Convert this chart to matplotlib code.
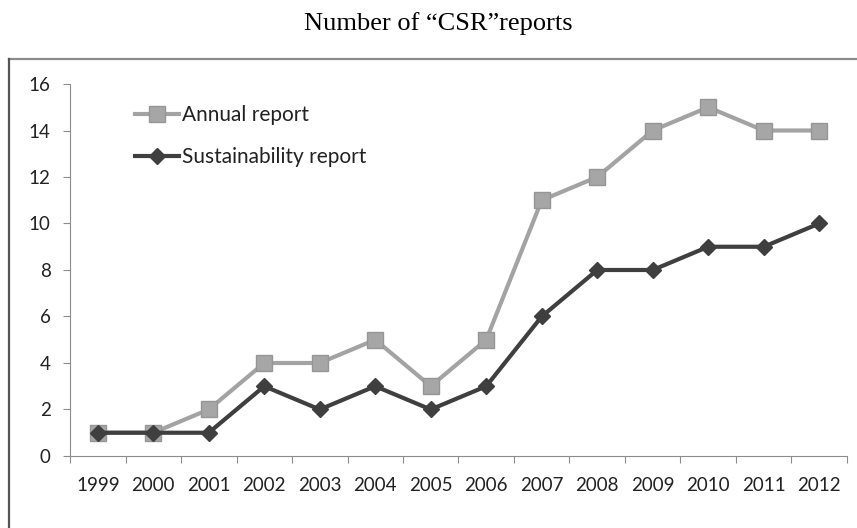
import matplotlib
matplotlib.use("Agg")
import matplotlib.pyplot as plt
from matplotlib.lines import Line2D

years = [1999, 2000, 2001, 2002, 2003, 2004, 2005,
         2006, 2007, 2008, 2009, 2010, 2011, 2012]
annual = [1, 1, 2, 4, 4, 5, 3, 5, 11, 12, 14, 15, 14, 14]
sustainability = [1, 1, 1, 3, 2, 3, 2, 3, 6, 8, 8, 9, 9, 10]

fig = plt.figure(figsize=(8.57, 5.28), dpi=100)
ax = fig.add_axes([0.0817, 0.1364, 0.9066, 0.7045])

x = list(range(len(years)))
ax.plot(x, annual, color="#a3a3a3", linewidth=3, marker="s", markersize=11,
        markerfacecolor="#a6a6a6", markeredgecolor="#969696",
        markeredgewidth=1, label="Annual report")
ax.plot(x, sustainability, color="#3f3f3f", linewidth=3, marker="D",
        markersize=8.5, markerfacecolor="#3f3f3f", markeredgecolor="#3f3f3f",
        label="Sustainability report")

ax.set_xlim(-0.5, len(years) - 0.5)
ax.set_ylim(0, 16)
ax.set_yticks(range(0, 17, 2))
# category boundaries get the tick marks, labels sit at the centres
ax.set_xticks([i + 0.5 for i in range(-1, len(years))])
ax.set_xticklabels([])
ax.set_xticks(x, minor=True)
ax.set_xticklabels([str(y) for y in years], minor=True)
ax.tick_params(axis="x", which="minor", length=0, pad=15, labelsize=13.5,
               labelcolor="#222222")
ax.tick_params(axis="x", which="major", length=5, color="#8c8c8c")
ax.tick_params(axis="y", length=5, color="#8c8c8c", pad=9, labelsize=13.5,
               labelcolor="#222222")
for lab in ax.get_xticklabels(minor=True) + ax.get_yticklabels():
    lab.set_family("Lato")

ax.spines["top"].set_visible(False)
ax.spines["right"].set_visible(False)
ax.spines["left"].set_color("#8c8c8c")
ax.spines["bottom"].set_color("#8c8c8c")

leg = ax.legend(loc="upper left", bbox_to_anchor=(0.073, 0.966),
                borderaxespad=0, frameon=False,
                prop={"family": "Lato", "size": 15}, handlelength=2.13,
                handletextpad=0.1, labelspacing=1.07)
for t in leg.get_texts():
    t.set_color("#222222")

# outer chart border, only the top and left edges remain in view
fig.add_artist(Line2D([0.0105, 1.0], [0.888, 0.888], transform=fig.transFigure,
                      color="#8c8c8c", linewidth=1.6))
fig.add_artist(Line2D([0.0105, 0.0105], [0.0, 0.888], transform=fig.transFigure,
                      color="#555555", linewidth=1.6))

fig.text(0.511, 0.956, "Number of \u201cCSR\u201dreports", ha="center",
         va="center", family="Liberation Serif", fontsize=19)

fig.savefig("out.png", dpi=100)
